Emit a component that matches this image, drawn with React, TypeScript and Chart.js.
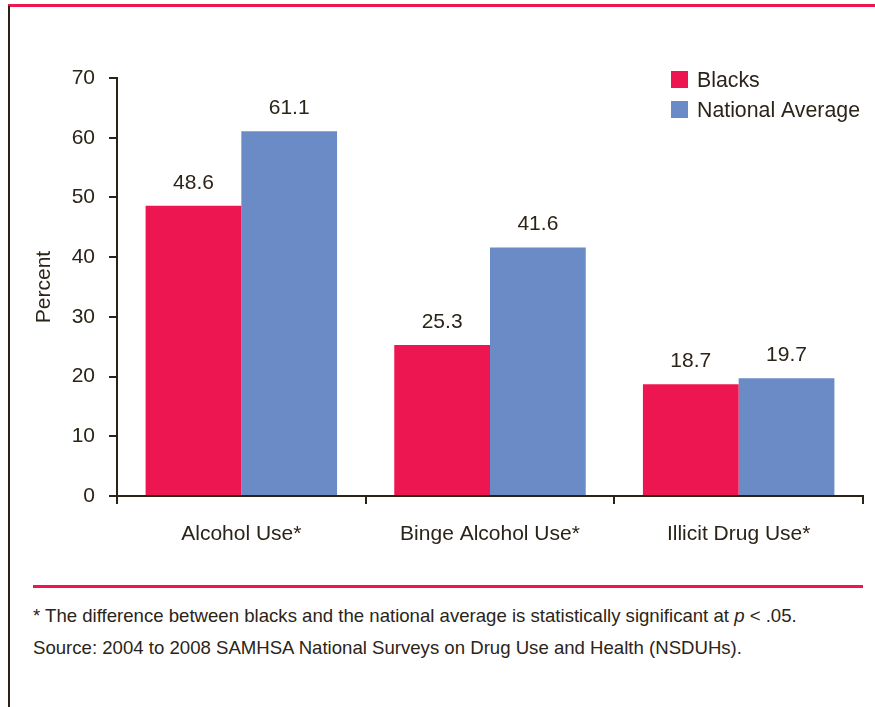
import React, { useEffect, useRef } from "react";
import { Chart, registerables } from "chart.js";

Chart.register(...registerables);

const categories = ["Alcohol Use*", "Binge Alcohol Use*", "Illicit Drug Use*"];
const seriesNames = ["Blacks", "National Average"];
const blacksValues = [48.6, 25.3, 18.7];
const nationalValues = [61.1, 41.6, 19.7];
const yTicks = [0, 10, 20, 30, 40, 50, 60, 70];

const RED = "#EE1651";
const BLUE = "#6A8BC6";
const TEXT = "#2b2418";
const AXIS = "#2b2114";
const FONT = '"Liberation Sans", Arial, Helvetica, sans-serif';

const valueLabelPlugin = {
  id: "valueLabels",
  afterDatasetsDraw(chart: any) {
    const ctx = chart.ctx;
    ctx.save();
    ctx.font = `21px ${FONT}`;
    ctx.fillStyle = TEXT;
    ctx.textAlign = "center";
    ctx.textBaseline = "middle";
    chart.data.datasets.forEach((ds: any, i: number) => {
      const meta = chart.getDatasetMeta(i);
      meta.data.forEach((bar: any, j: number) => {
        ctx.fillText(Number(ds.data[j]).toFixed(1), bar.x, bar.y - 23);
      });
    });
    ctx.restore();
  },
};

const legendPlugin = {
  id: "customLegend",
  afterDraw(chart: any) {
    const ctx = chart.ctx;
    ctx.save();
    ctx.font = `21.3px ${FONT}`;
    ctx.textAlign = "left";
    ctx.textBaseline = "middle";
    chart.data.datasets.forEach((ds: any, i: number) => {
      const y = 71 + i * 30;
      ctx.fillStyle = ds.backgroundColor;
      ctx.fillRect(671, y, 17, 17);
      ctx.fillStyle = TEXT;
      ctx.fillText(ds.label, 697, y + 10);
    });
    ctx.restore();
  },
};

function BarChart() {
  const ref = useRef<HTMLCanvasElement>(null);
  useEffect(() => {
    if (!ref.current) return;
    const chart = new Chart(ref.current, {
      type: "bar",
      data: {
        labels: categories,
        datasets: [
          { label: seriesNames[0], data: blacksValues, backgroundColor: RED, borderWidth: 0 },
          { label: seriesNames[1], data: nationalValues, backgroundColor: BLUE, borderWidth: 0 },
        ],
      },
      options: {
        animation: false,
        responsive: false,
        maintainAspectRatio: false,
        layout: { padding: { top: 78, right: 12, left: 0, bottom: 0 } },
        datasets: { bar: { categoryPercentage: 0.77, barPercentage: 1 } },
        plugins: { legend: { display: false }, tooltip: { enabled: false } },
        scales: {
          x: {
            afterFit(scale: any) { scale.height = 84; },
            grid: { offset: true, drawOnChartArea: false, drawTicks: true, tickLength: 8, color: AXIS, lineWidth: 2 },
            border: { display: true, color: AXIS, width: 2 },
            ticks: { color: TEXT, font: { size: 21, family: FONT }, padding: 18 },
          },
          y: {
            min: 0,
            max: 70,
            afterFit(scale: any) { scale.width = 117; },
            afterBuildTicks(scale: any) { scale.ticks = yTicks.map((v) => ({ value: v })); },
            grid: { drawOnChartArea: false, drawTicks: true, tickLength: 8, color: AXIS, lineWidth: 2 },
            border: { display: true, color: AXIS, width: 2 },
            ticks: { color: TEXT, font: { size: 21, family: FONT }, padding: 14 },
            title: { display: true, text: "Percent", color: TEXT, font: { size: 21, family: FONT }, padding: { top: 32, bottom: 0 } },
          },
        },
      },
      plugins: [valueLabelPlugin, legendPlugin],
    });
    return () => chart.destroy();
  }, []);
  return <canvas ref={ref} width={875} height={580} style={{ display: "block" }} />;
}

export default function App() {
  return (
    <div style={{ position: "fixed", left: 0, top: 0, width: 875, height: 707, background: "#fff", fontFamily: FONT, color: TEXT, overflow: "hidden" }}>
      <div style={{ position: "absolute", left: 0, top: 0 }}>
        <BarChart />
      </div>
      <div style={{ position: "absolute", left: 8, top: 4, width: 867, height: 3, background: RED }} />
      <div style={{ position: "absolute", left: 8, top: 6, width: 2, height: 701, background: AXIS }} />
      <div style={{ position: "absolute", left: 33, top: 585, width: 830, height: 3, background: RED }} />
      <div style={{ position: "absolute", left: 33, top: 600, fontSize: 18.6, lineHeight: "32px", whiteSpace: "nowrap" }}>
        <div>* The difference between blacks and the national average is statistically significant at <i>p</i> &lt; .05.</div>
        <div>Source: 2004 to 2008 SAMHSA National Surveys on Drug Use and Health (NSDUHs).</div>
      </div>
    </div>
  );
}
